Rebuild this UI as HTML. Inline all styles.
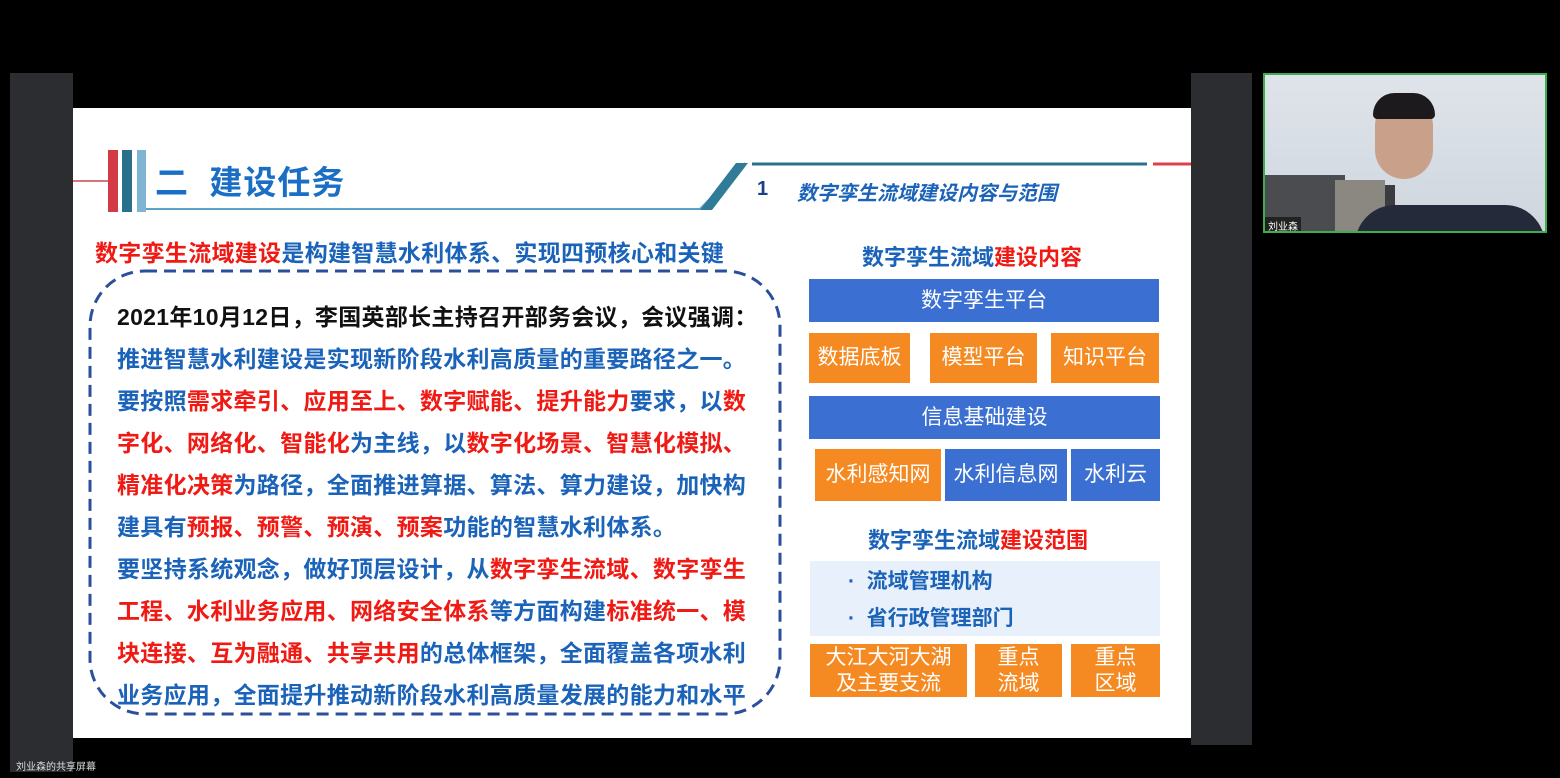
<!DOCTYPE html>
<html><head><meta charset="utf-8"><style>
*{margin:0;padding:0;box-sizing:border-box}
body{width:1560px;height:778px;background:#000;position:relative;overflow:hidden;font-family:"Liberation Sans","Noto Sans CJK SC",sans-serif}
.a{position:absolute}
.t{position:absolute;white-space:nowrap}
.bx{position:absolute;color:#fff;font-size:21px;display:flex;align-items:center;justify-content:center;text-align:center;line-height:26px}
.bl{background:#3b70d2}
.or{background:#f58a22}
.ln{position:absolute;left:117px;font-size:23px;font-weight:bold;color:#1a63b8;white-space:nowrap;letter-spacing:0.3px}
.r{color:#f01a14}
</style></head><body>
<div class="a" style="left:10px;top:73px;width:63px;height:699px;background:#2b2d30"></div>
<div class="a" style="left:1191px;top:73px;width:61px;height:672px;background:#2b2d30"></div>
<div class="a" style="left:73px;top:108px;width:1118px;height:630px;background:#fff"></div>
<div class="t" style="left:16px;top:758px;font-size:10px;color:#ddd">刘业森的共享屏幕</div>

<div class="a" style="left:73px;top:180px;width:36px;height:2px;background:#d9737c"></div>
<div class="a" style="left:108px;top:150px;width:10px;height:62px;background:#d23a45"></div>
<div class="a" style="left:122px;top:150px;width:10px;height:62px;background:#2a6f8c"></div>
<div class="a" style="left:137px;top:150px;width:9px;height:62px;background:#7eb5d2"></div>
<svg class="a" style="left:0;top:0" width="1560" height="778">
<polyline points="146,209 700,209 745,163" fill="none" stroke="#5aa3c8" stroke-width="2"/>
<polygon points="700,210 712,210 748,163 736,163" fill="#2f7b98"/>
<line x1="752" y1="164" x2="1147" y2="164" stroke="#2d6f8e" stroke-width="3"/>
<line x1="1153" y1="164" x2="1191" y2="164" stroke="#e0404a" stroke-width="3"/>
<rect x="90" y="271" width="690" height="443" rx="55" ry="55" fill="none" stroke="#2c4f9c" stroke-width="3" stroke-dasharray="12,7"/>
</svg>
<div class="t" style="left:155px;top:156px;font-size:33px;font-weight:bold;color:#1a6fc4;letter-spacing:1px">二&nbsp;&nbsp;建设任务</div>
<div class="t" style="left:757px;top:178px;font-size:20px;font-weight:bold;color:#1a3f8a">1</div>
<div class="t" style="left:797px;top:177px;font-size:20px;font-weight:bold;font-style:italic;color:#1a63b8">数字孪生流域建设内容与范围</div>

<div class="t" style="left:95px;top:234px;font-size:23px;font-weight:bold;color:#1a63b8;letter-spacing:0.3px"><span class="r">数字孪生流域建设</span>是构建智慧水利体系、实现四预核心和关键</div>

<div class="ln" style="top:298px;color:#111">2021年10月12日，李国英部长主持召开部务会议，会议强调：</div>
<div class="ln" style="top:340px">推进智慧水利建设是实现新阶段水利高质量的重要路径之一。</div>
<div class="ln" style="top:382px">要按照<span class="r">需求牵引、应用至上、数字赋能、提升能力</span>要求，以<span class="r">数</span></div>
<div class="ln" style="top:424px"><span class="r">字化、网络化、智能化</span>为主线，以<span class="r">数字化场景、智慧化模拟、</span></div>
<div class="ln" style="top:466px"><span class="r">精准化决策</span>为路径，全面推进算据、算法、算力建设，加快构</div>
<div class="ln" style="top:508px">建具有<span class="r">预报、预警、预演、预案</span>功能的智慧水利体系。</div>
<div class="ln" style="top:550px">要坚持系统观念，做好顶层设计，从<span class="r">数字孪生流域、数字孪生</span></div>
<div class="ln" style="top:592px"><span class="r">工程、水利业务应用、网络安全体系</span>等方面构建<span class="r">标准统一、模</span></div>
<div class="ln" style="top:634px"><span class="r">块连接、互为融通、共享共用</span>的总体框架，全面覆盖各项水利</div>
<div class="ln" style="top:676px">业务应用，全面提升推动新阶段水利高质量发展的能力和水平</div>

<div class="t" style="left:862px;top:240px;font-size:22px;font-weight:bold;color:#1a63b8">数字孪生流域<span class="r">建设内容</span></div>
<div class="bx bl" style="left:809px;top:279px;width:350px;height:43px">数字孪生平台</div>
<div class="bx or" style="left:809px;top:333px;width:101px;height:50px">数据底板</div>
<div class="bx or" style="left:930px;top:333px;width:107px;height:50px">模型平台</div>
<div class="bx or" style="left:1051px;top:333px;width:108px;height:50px">知识平台</div>
<div class="bx bl" style="left:809px;top:396px;width:351px;height:43px">信息基础建设</div>
<div class="bx or" style="left:815px;top:449px;width:126px;height:52px">水利感知网</div>
<div class="bx bl" style="left:945px;top:449px;width:122px;height:52px">水利信息网</div>
<div class="bx bl" style="left:1071px;top:449px;width:89px;height:52px">水利云</div>
<div class="t" style="left:868px;top:523px;font-size:22px;font-weight:bold;color:#1a63b8">数字孪生流域<span class="r">建设范围</span></div>
<div class="a" style="left:810px;top:561px;width:350px;height:75px;background:#e8f1fb"></div>
<div class="t" style="left:848px;top:565px;font-size:21px;font-weight:bold;color:#1a63b8">·&nbsp;&nbsp;流域管理机构</div>
<div class="t" style="left:848px;top:602px;font-size:21px;font-weight:bold;color:#1a63b8">·&nbsp;&nbsp;省行政管理部门</div>
<div class="bx or" style="left:810px;top:644px;width:157px;height:53px">大江大河大湖<br>及主要支流</div>
<div class="bx or" style="left:975px;top:644px;width:87px;height:53px">重点<br>流域</div>
<div class="bx or" style="left:1071px;top:644px;width:89px;height:53px">重点<br>区域</div>

<div class="a" style="left:1263px;top:73px;width:284px;height:160px;border:2px solid #3cae4c;background:linear-gradient(#dfe4ea,#cfd6de);overflow:hidden">
<div class="a" style="left:0;top:100px;width:80px;height:60px;background:#4a4c50"></div>
<div class="a" style="left:70px;top:110px;width:60px;height:50px;background:#3a3c40"></div>
<div class="a" style="left:70px;top:105px;width:50px;height:55px;background:#8a8880"></div>
<div class="a" style="left:90px;top:130px;width:190px;height:40px;border-radius:50px 50px 0 0;background:#252a3a"></div>
<div class="a" style="left:110px;top:22px;width:58px;height:82px;border-radius:30px;background:#c9a08a"></div>
<div class="a" style="left:108px;top:18px;width:62px;height:26px;border-radius:30px 30px 6px 6px;background:#1c1a1c"></div>
<div class="a" style="left:0;top:142px;width:36px;height:16px;background:#222"></div>
<div class="t" style="left:3px;top:143px;font-size:10px;color:#fff">刘业森</div>
</div>
</body></html>
